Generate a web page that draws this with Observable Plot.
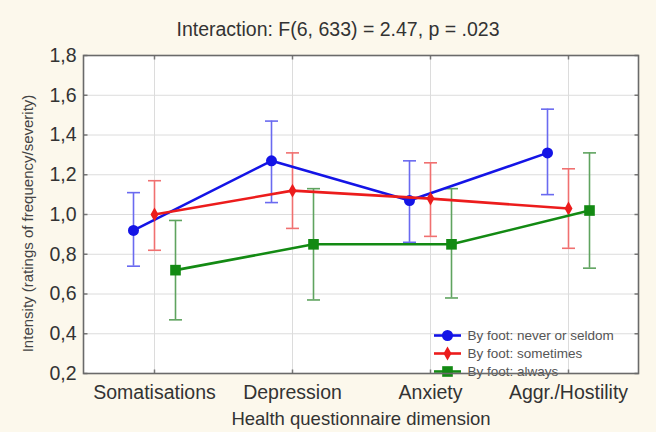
<!DOCTYPE html>
<html>
<head>
<meta charset="utf-8">
<script src="https://cdn.jsdelivr.net/npm/d3@7"></script>
<script src="https://cdn.jsdelivr.net/npm/@observablehq/plot@0.6"></script>
<style>
  html, body { margin: 0; padding: 0; background: #fcf8ec; }
  #chart { width: 656px; height: 432px; }
</style>
</head>
<body>
<div id="chart"></div>
<script>
const categories = ["Somatisations", "Depression", "Anxiety", "Aggr./Hostility"];
const seriesNames = ["By foot: never or seldom", "By foot: sometimes", "By foot: always"];

const neverMean = [0.92, 1.27, 1.07, 1.31];
const neverLow  = [0.74, 1.06, 0.86, 1.10];
const neverHigh = [1.11, 1.47, 1.27, 1.53];

const sometimesMean = [1.00, 1.12, 1.08, 1.03];
const sometimesLow  = [0.82, 0.93, 0.89, 0.83];
const sometimesHigh = [1.17, 1.31, 1.26, 1.23];

const alwaysMean = [0.72, 0.85, 0.85, 1.02];
const alwaysLow  = [0.47, 0.57, 0.58, 0.73];
const alwaysHigh = [0.97, 1.13, 1.13, 1.31];

const yTicks = [0.2, 0.4, 0.6, 0.8, 1.0, 1.2, 1.4, 1.6, 1.8];
const titleText = "Interaction: F(6, 633) = 2.47, p = .023";
const xLabel = "Health questionnaire dimension";
const yLabel = "Intensity (ratings of frequency/severity)";

const series = [
  {name: seriesNames[0], mean: neverMean, low: neverLow, high: neverHigh,
   color: "#1414e6", errColor: "#6a6af0", symbol: "circle", r: 5.5, dx: -21},
  {name: seriesNames[1], mean: sometimesMean, low: sometimesLow, high: sometimesHigh,
   color: "#ec1c1c", errColor: "#f07070", symbol: "diamond", r: 4.2, dx: 0},
  {name: seriesNames[2], mean: alwaysMean, low: alwaysLow, high: alwaysHigh,
   color: "#138a13", errColor: "#5fa35f", symbol: "square", r: 6, dx: 21}
];

const tables = series.map(s => categories.map((c, i) => ({
  cat: c, mean: s.mean[i], low: s.low[i], high: s.high[i]
})));

const capSym = {draw(ctx) { ctx.moveTo(-6.5, 0); ctx.lineTo(6.5, 0); }};
const lineSym = {draw(ctx) { ctx.moveTo(-13.5, 0); ctx.lineTo(13.5, 0); }};
const tickIn = (ax, ay) => ({draw(ctx) { ctx.moveTo(0, 0); ctx.lineTo(ax, ay); }});

const marks = [
  Plot.frame({fill: "white"}),
  Plot.gridY(yTicks, {stroke: "#dcdcdc", strokeOpacity: 1}),
  Plot.gridX(categories, {stroke: "#dcdcdc", strokeOpacity: 1}),
  Plot.dot(yTicks, {y: d => d, frameAnchor: "left", symbol: tickIn(4, 0), stroke: "#777", fill: "none"}),
  Plot.dot(yTicks, {y: d => d, frameAnchor: "right", symbol: tickIn(-4, 0), stroke: "#777", fill: "none"}),
  Plot.dot(categories, {x: d => d, frameAnchor: "top", symbol: tickIn(0, 4), stroke: "#777", fill: "none"}),
  Plot.dot(categories, {x: d => d, frameAnchor: "bottom", symbol: tickIn(0, -4), stroke: "#777", fill: "none"})
];

series.forEach((s, k) => {
  const t = tables[k];
  marks.push(
    Plot.ruleX(t, {x: "cat", y1: "low", y2: "high", stroke: s.errColor, strokeWidth: 1.6, dx: s.dx}),
    Plot.dot(t, {x: "cat", y: "low", symbol: capSym, stroke: s.errColor, strokeWidth: 1.6, fill: "none", dx: s.dx}),
    Plot.dot(t, {x: "cat", y: "high", symbol: capSym, stroke: s.errColor, strokeWidth: 1.6, fill: "none", dx: s.dx})
  );
});
series.forEach((s, k) => {
  const t = tables[k];
  marks.push(
    Plot.line(t, {x: "cat", y: "mean", stroke: s.color, strokeWidth: 2.6, dx: s.dx}),
    Plot.dot(t, {x: "cat", y: "mean", fill: s.color, stroke: "none", symbol: s.symbol, r: s.r, dx: s.dx})
  );
});

// legend inside the frame (bottom right)
series.forEach((s, k) => {
  const dy = -38 + k * 18;
  marks.push(
    Plot.dot([s.name], {frameAnchor: "bottom-right", dx: -191, dy, symbol: lineSym, stroke: s.color, strokeWidth: 2.6, fill: "none"}),
    Plot.dot([s.name], {frameAnchor: "bottom-right", dx: -191, dy, symbol: s.symbol, r: s.r, fill: s.color, stroke: "none"}),
    Plot.text([s.name], {frameAnchor: "bottom-right", dx: -171, dy, textAnchor: "start", lineAnchor: "middle", fontSize: 13.5, fill: "#555"})
  );
});

marks.push(
  Plot.frame({stroke: "#6a6a6a", strokeWidth: 1.6}),
  Plot.axisY({ticks: yTicks, tickSize: 0, tickPadding: 7, fontSize: 19.5, label: null, fill: "#333",
    tickFormat: d => d.toFixed(1).replace(".", ",")}),
  Plot.axisX({tickSize: 0, tickPadding: 12, fontSize: 19.5, label: null, fill: "#333"}),
  Plot.text([titleText], {frameAnchor: "top", dx: -23, dy: -26, lineAnchor: "middle", fontSize: 19.5, fill: "#333"}),
  Plot.text([xLabel], {frameAnchor: "bottom", dy: 46, lineAnchor: "middle", fontSize: 18.5, fill: "#333"}),
  Plot.text([yLabel], {frameAnchor: "left", dx: -55, dy: 9, rotate: -90, textAnchor: "middle", lineAnchor: "middle", fontSize: 15, fill: "#444"})
);

const chart = Plot.plot({
  width: 656,
  height: 432,
  marginLeft: 83,
  marginRight: 18,
  marginTop: 55,
  marginBottom: 59,
  style: {background: "#fcf8ec", fontFamily: "'Liberation Sans', Arial, sans-serif", color: "#333"},
  x: {type: "point", domain: categories, padding: 0.5},
  y: {domain: [0.2, 1.8]},
  marks
});
document.getElementById("chart").appendChild(chart);
</script>
</body>
</html>
